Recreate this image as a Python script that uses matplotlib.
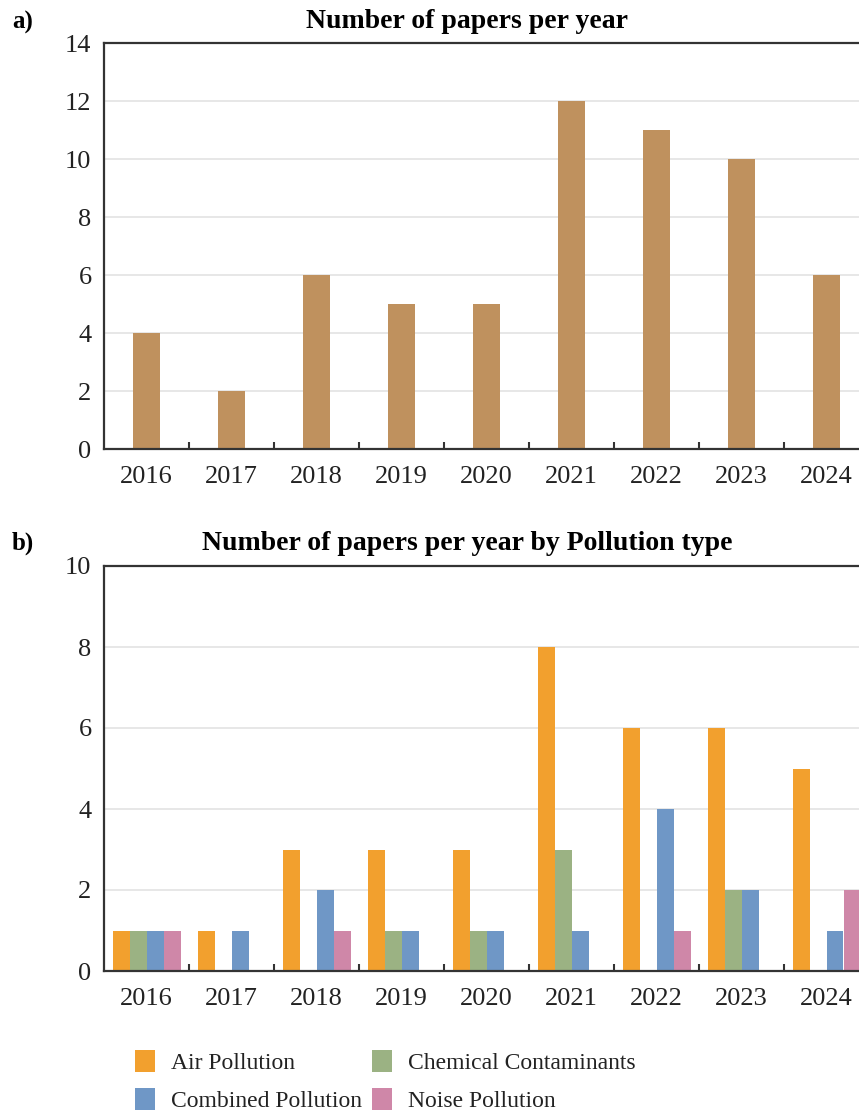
import matplotlib.pyplot as plt
import numpy as np

years = ["2016", "2017", "2018", "2019", "2020", "2021", "2022", "2023", "2024"]
papers_total = [4, 2, 6, 5, 5, 12, 11, 10, 6]

pollution_types = ["Air Pollution", "Chemical Contaminants", "Combined Pollution", "Noise Pollution"]
air = [1, 1, 3, 3, 3, 8, 6, 6, 5]
chemical = [1, 0, 0, 1, 1, 3, 0, 2, 0]
combined = [1, 1, 2, 1, 1, 1, 4, 2, 1]
noise = [1, 0, 1, 0, 0, 0, 1, 0, 2]
type_colors = ["#F2A02E", "#9BB283", "#6F97C6", "#CF87A8"]

plt.rcParams["font.family"] = ["Liberation Serif", "DejaVu Serif"]

W, H = 859, 1119
fig = plt.figure(figsize=(W / 100, H / 100), dpi=100)


def px_axes(left, top, right, bottom):
    return fig.add_axes([left / W, 1 - bottom / H, (right - left) / W, (bottom - top) / H])


def style(ax, ymax, step):
    x = np.arange(len(years))
    ax.set_xlim(-0.5, len(years) - 0.5)
    ax.set_ylim(0, ymax)
    ax.set_yticks(np.arange(0, ymax + 1, step))
    ax.set_xticks(x)
    ax.set_xticklabels(years)
    ax.set_xticks(x[:-1] + 0.5, minor=True)
    ax.tick_params(axis="both", which="major", length=0, labelsize=19, colors="#222222")
    ax.tick_params(axis="y", pad=9)
    ax.tick_params(axis="x", pad=12)
    ax.tick_params(axis="x", which="minor", direction="in", length=5, width=1.5, color="#333333")
    ax.grid(axis="y", color="#e3e3e3", linewidth=1.2)
    ax.set_axisbelow(True)
    for side in ["left", "top", "bottom"]:
        ax.spines[side].set_color("#333333")
        ax.spines[side].set_linewidth(1.6)
    ax.spines["right"].set_visible(False)


# a) total papers per year
ax1 = px_axes(104, 43, 869, 449)
ax1.bar(np.arange(len(years)), papers_total, width=0.32, color="#BF915E")
style(ax1, 14, 2)

# b) papers per year by pollution type
ax2 = px_axes(104, 566, 869, 971)
series = [air, chemical, combined, noise]
bw = 0.2
x = np.arange(len(years))
bars = []
for i, (vals, col) in enumerate(zip(series, type_colors)):
    b = ax2.bar(x - 0.3 + i * bw, vals, width=bw, color=col, label=pollution_types[i])
    bars.append(b)
style(ax2, 10, 2)

fig.text(467 / W, 1 - 21 / H, "Number of papers per year", ha="center", va="center",
         fontsize=20, fontweight="bold")
fig.text(467 / W, 1 - 543 / H, "Number of papers per year by Pollution type", ha="center",
         va="center", fontsize=20, fontweight="bold")
fig.text(12 / W, 1 - 22 / H, "a)", ha="left", va="center", fontsize=18, fontweight="bold")
fig.text(12 / W, 1 - 543 / H, "b)", ha="left", va="center", fontsize=18, fontweight="bold")

order = [0, 2, 1, 3]
fig.legend([bars[i] for i in order], [pollution_types[i] for i in order],
           loc="upper left", bbox_to_anchor=(135 / W, 1 - 1050 / H), ncol=2,
           frameon=False, fontsize=17, handlelength=0.85, handleheight=1.05,
           handletextpad=0.68, columnspacing=0.4, labelspacing=0.6, borderpad=0,
           borderaxespad=0, labelcolor="#222222")

fig.savefig("out.png", dpi=100)
